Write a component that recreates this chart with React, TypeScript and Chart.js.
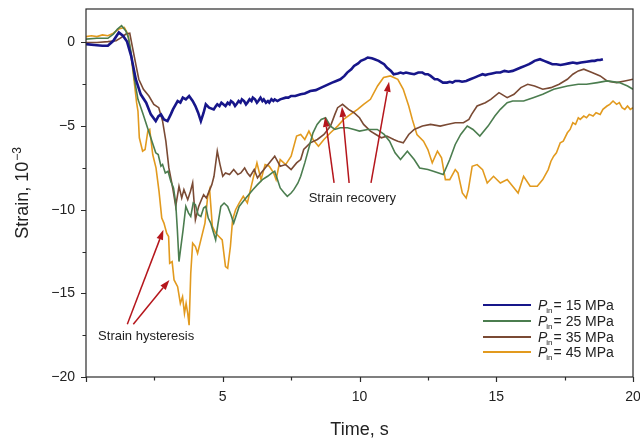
import { useEffect, useRef } from 'react';
import { Chart, registerables } from 'chart.js';

Chart.register(...registerables);

// Strain (×10⁻³) against time (s) for each inlet pressure, as [time, strain] samples
const strain15MPa: [number, number][] = [
  [0, -0.1], [0.3, -0.15], [0.6, -0.2], [0.8, -0.2], [1.0, 0.1], [1.2, 0.6], [1.35, 0.4], [1.5, 0.05],
  [1.65, -0.8], [1.82, -2.2], [2.0, -3.1], [2.2, -3.6], [2.37, -4.3], [2.55, -4.7], [2.65, -4.4], [2.74, -4.3],
  [2.85, -4.6], [2.98, -4.7], [3.1, -4.3], [3.18, -4.0], [3.35, -3.5], [3.45, -3.6], [3.54, -3.3], [3.65, -3.4],
  [3.77, -3.2], [3.9, -3.5], [4.0, -3.8], [4.1, -4.2], [4.2, -4.7], [4.3, -4.2], [4.38, -3.7], [4.5, -3.9],
  [4.67, -4.0], [4.75, -3.8], [4.8, -3.7], [4.88, -3.8], [4.95, -3.6], [5.02, -3.7], [5.1, -3.8], [5.18, -3.6],
  [5.25, -3.7], [5.3, -3.5], [5.38, -3.6], [5.45, -3.8], [5.5, -3.7], [5.58, -3.5], [5.65, -3.6], [5.7, -3.4],
  [5.78, -3.5], [5.85, -3.7], [5.9, -3.6], [5.98, -3.4], [6.05, -3.5], [6.1, -3.3], [6.18, -3.4], [6.25, -3.6],
  [6.3, -3.5], [6.38, -3.3], [6.45, -3.5], [6.5, -3.4], [6.58, -3.6], [6.65, -3.5], [6.7, -3.6], [6.78, -3.4],
  [6.85, -3.5], [6.9, -3.4], [7.0, -3.5], [7.1, -3.4], [7.2, -3.35], [7.3, -3.3], [7.4, -3.3], [7.5, -3.2],
  [7.65, -3.2], [7.85, -3.1], [8.0, -3.05], [8.2, -2.9], [8.4, -2.85], [8.6, -2.7], [8.8, -2.55], [9.0, -2.4],
  [9.15, -2.3], [9.3, -2.2], [9.45, -2.0], [9.55, -1.8], [9.7, -1.6], [9.8, -1.4], [9.95, -1.25], [10.05, -1.1],
  [10.2, -1.0], [10.3, -0.9], [10.45, -0.95], [10.55, -1.0], [10.7, -1.1], [10.8, -1.2], [10.9, -1.3], [11.0, -1.5],
  [11.15, -1.7], [11.25, -1.9], [11.4, -1.85], [11.5, -1.8], [11.6, -1.85], [11.7, -1.8], [11.85, -1.85], [12.0, -1.9],
  [12.15, -1.8], [12.3, -1.8], [12.4, -1.9], [12.5, -1.9], [12.6, -2.0], [12.75, -2.2], [12.85, -2.2], [12.95, -2.3],
  [13.05, -2.4], [13.2, -2.4], [13.3, -2.35], [13.4, -2.4], [13.5, -2.3], [13.65, -2.3], [13.75, -2.35], [13.9, -2.3],
  [14.05, -2.2], [14.2, -2.1], [14.35, -2.0], [14.5, -1.9], [14.6, -1.95], [14.7, -1.9], [14.85, -1.85], [15.0, -1.8],
  [15.15, -1.8], [15.3, -1.7], [15.45, -1.75], [15.6, -1.7], [15.75, -1.6], [15.9, -1.5], [16.05, -1.4], [16.2, -1.3],
  [16.3, -1.2], [16.4, -1.1], [16.5, -1.05], [16.6, -1.0], [16.75, -1.1], [16.9, -1.2], [17.05, -1.3], [17.2, -1.3],
  [17.35, -1.35], [17.5, -1.3], [17.65, -1.25], [17.8, -1.2], [17.95, -1.25], [18.1, -1.2], [18.3, -1.15], [18.5, -1.1],
  [18.6, -1.1], [18.7, -1.05], [18.8, -1.05], [18.9, -1.0],
];

const strain25MPa: [number, number][] = [
  [0, 0.2], [0.4, 0.25], [0.8, 0.25], [1.0, 0.5], [1.15, 0.8], [1.3, 1.0], [1.45, 0.7], [1.55, 0.3],
  [1.64, -0.5], [1.76, -2.1], [1.9, -3.4], [2.07, -4.2], [2.27, -5.2], [2.45, -6.1], [2.55, -6.6], [2.64, -6.7],
  [2.74, -7.4], [2.8, -7.3], [2.9, -7.8], [3.0, -7.7], [3.1, -8.3], [3.2, -8.7], [3.28, -9.6], [3.34, -11.2],
  [3.4, -13.1], [3.47, -12.2], [3.55, -11.2], [3.65, -9.8], [3.75, -10.2], [3.83, -10.4], [3.92, -9.6], [4.0, -9.7],
  [4.1, -10.3], [4.2, -10.4], [4.3, -9.9], [4.38, -9.8], [4.47, -10.5], [4.56, -10.8], [4.65, -11.3], [4.74, -11.8],
  [4.82, -10.9], [4.93, -9.8], [5.05, -9.6], [5.18, -9.8], [5.3, -10.3], [5.4, -10.8], [5.5, -10.3], [5.6, -9.8],
  [5.75, -9.5], [5.9, -9.2], [6.1, -8.8], [6.27, -8.5], [6.45, -8.2], [6.64, -8.0], [6.8, -7.8], [6.9, -7.7],
  [7.0, -8.2], [7.1, -8.7], [7.25, -9.0], [7.36, -9.2], [7.5, -9.0], [7.6, -8.8], [7.75, -8.4], [7.85, -8.0],
  [8.0, -7.2], [8.1, -6.6], [8.2, -6.0], [8.3, -5.4], [8.45, -4.9], [8.6, -4.6], [8.76, -4.5], [8.94, -5.0],
  [9.1, -5.2], [9.3, -5.1], [9.56, -5.1], [9.8, -5.2], [10.0, -5.3], [10.3, -5.2], [10.65, -5.2], [10.9, -5.5],
  [11.1, -5.9], [11.3, -6.6], [11.5, -7.0], [11.75, -6.5], [12.0, -7.0], [12.2, -7.5], [12.5, -7.6], [12.7, -7.7],
  [13.06, -7.9], [13.3, -7.0], [13.5, -6.1], [13.7, -5.5], [13.94, -5.0], [14.15, -5.2], [14.4, -5.6], [14.7, -5.0],
  [14.95, -4.4], [15.15, -4.0], [15.4, -3.6], [15.6, -3.5], [16.0, -3.5], [16.35, -3.3], [16.7, -3.1], [17.1, -2.8],
  [17.6, -2.6], [18.0, -2.5], [18.3, -2.5], [18.7, -2.4], [19.05, -2.3], [19.5, -2.4], [19.8, -2.6], [20.0, -2.8],
];

const strain35MPa: [number, number][] = [
  [0, 0.0], [0.4, 0.0], [0.8, 0.05], [1.1, 0.1], [1.3, 0.3], [1.46, 0.5], [1.6, 0.55], [1.7, -0.3],
  [1.82, -1.3], [1.93, -2.2], [2.1, -2.8], [2.3, -3.2], [2.48, -3.7], [2.66, -3.9], [2.8, -4.7], [2.92, -5.9],
  [3.03, -7.5], [3.17, -8.7], [3.28, -9.8], [3.4, -8.6], [3.5, -9.3], [3.58, -8.8], [3.72, -9.4], [3.82, -8.9],
  [3.9, -8.4], [4.0, -10.6], [4.12, -9.8], [4.22, -9.4], [4.3, -9.1], [4.4, -9.3], [4.5, -8.9], [4.6, -8.5],
  [4.68, -8.0], [4.8, -6.5], [4.9, -7.3], [5.0, -8.0], [5.1, -7.8], [5.25, -7.9], [5.4, -7.6], [5.55, -7.9],
  [5.66, -7.8], [5.8, -7.5], [5.9, -7.8], [6.0, -8.0], [6.15, -7.6], [6.27, -8.1], [6.4, -7.8], [6.55, -7.5],
  [6.7, -7.2], [6.9, -6.8], [7.0, -7.1], [7.1, -7.4], [7.3, -7.3], [7.5, -7.6], [7.7, -7.2], [7.85, -7.0],
  [7.96, -6.4], [8.2, -6.0], [8.46, -5.8], [8.7, -5.5], [8.94, -5.0], [9.1, -4.3], [9.2, -3.9], [9.38, -3.7],
  [9.6, -4.0], [9.8, -4.2], [10.0, -4.5], [10.15, -4.9], [10.4, -5.3], [10.6, -5.5], [10.8, -5.7], [11.0, -5.6],
  [11.25, -5.8], [11.4, -5.9], [11.6, -6.0], [11.8, -5.5], [12.0, -5.2], [12.3, -5.0], [12.6, -4.9], [12.95, -5.0],
  [13.2, -4.9], [13.5, -4.8], [13.8, -4.8], [14.0, -4.6], [14.1, -4.3], [14.3, -3.8], [14.6, -3.6], [14.8, -3.4],
  [15.1, -3.0], [15.4, -3.3], [15.65, -3.1], [15.9, -2.7], [16.15, -2.5], [16.4, -2.6], [16.7, -2.8], [17.0, -2.7],
  [17.3, -2.5], [17.6, -2.2], [17.8, -1.9], [18.0, -1.7], [18.2, -1.6], [18.5, -1.8], [18.8, -2.0], [19.05, -2.3],
  [19.4, -2.4], [19.7, -2.3], [20.0, -2.2],
];

const strain45MPa: [number, number][] = [
  [0, 0.35], [0.2, 0.4], [0.4, 0.35], [0.6, 0.45], [0.8, 0.4], [1.0, 0.55], [1.2, 0.8], [1.4, 0.9],
  [1.53, 0.5], [1.64, -0.7], [1.76, -2.3], [1.85, -3.6], [1.9, -4.1], [1.95, -5.7], [2.07, -6.5], [2.16, -6.4],
  [2.26, -5.3], [2.33, -5.2], [2.44, -6.7], [2.56, -7.5], [2.67, -8.9], [2.77, -10.5], [2.85, -10.8], [2.95, -11.4],
  [3.02, -11.6], [3.06, -13.2], [3.15, -13.1], [3.22, -14.2], [3.35, -14.6], [3.45, -15.6], [3.53, -15.2], [3.6, -16.2],
  [3.66, -15.6], [3.72, -16.2], [3.77, -16.9], [3.83, -13.8], [3.9, -12.0], [4.0, -12.2], [4.08, -12.6], [4.2, -11.8],
  [4.35, -10.8], [4.45, -9.2], [4.52, -8.8], [4.62, -11.0], [4.74, -11.4], [4.86, -11.6], [4.98, -11.8], [5.1, -13.4],
  [5.18, -13.5], [5.28, -12.2], [5.36, -10.6], [5.47, -10.0], [5.6, -9.6], [5.75, -9.2], [5.9, -9.6], [6.1, -8.2],
  [6.25, -7.2], [6.4, -8.2], [6.55, -7.3], [6.7, -7.4], [6.86, -7.8], [6.95, -8.2], [7.1, -7.0], [7.3, -7.3],
  [7.5, -6.8], [7.7, -5.6], [7.85, -5.5], [8.0, -5.8], [8.15, -5.3], [8.3, -5.8], [8.5, -6.2], [8.7, -5.8],
  [8.94, -5.4], [9.2, -5.0], [9.42, -4.6], [9.67, -4.3], [9.93, -4.0], [10.15, -3.7], [10.4, -3.4], [10.66, -2.6],
  [10.88, -2.1], [11.13, -2.0], [11.4, -2.2], [11.6, -2.8], [11.8, -3.8], [11.93, -4.6], [12.1, -5.5], [12.34, -5.9],
  [12.5, -6.4], [12.66, -7.2], [12.85, -6.5], [13.0, -6.9], [13.14, -8.2], [13.3, -8.2], [13.5, -7.6], [13.6, -7.8],
  [13.76, -9.0], [13.9, -9.3], [13.98, -8.8], [14.12, -7.4], [14.3, -7.3], [14.5, -7.6], [14.67, -8.4], [14.9, -8.0],
  [15.15, -8.4], [15.4, -8.2], [15.6, -8.6], [15.8, -9.0], [16.0, -8.0], [16.24, -8.6], [16.5, -8.6], [16.7, -8.2],
  [16.9, -7.6], [17.0, -7.1], [17.1, -6.8], [17.2, -6.6], [17.34, -6.0], [17.45, -5.9], [17.6, -5.4], [17.7, -5.2],
  [17.8, -4.8], [17.9, -4.9], [18.0, -4.5], [18.07, -4.6], [18.2, -4.4], [18.3, -4.5], [18.4, -4.3], [18.54, -4.4],
  [18.65, -4.2], [18.8, -4.3], [18.9, -4.0], [19.05, -3.8], [19.15, -3.7], [19.27, -3.5], [19.4, -3.7], [19.5, -3.6],
  [19.6, -3.9], [19.7, -4.0], [19.8, -3.8], [19.9, -4.0], [20, -3.9],
];

const pressureLabels = ['15', '25', '35', '45'];
const seriesColors = ['#17168a', '#4b7d4f', '#7a4a34', '#e29a1e'];
const seriesWidths = [2.6, 1.6, 1.6, 1.6];
const seriesData = [strain15MPa, strain25MPa, strain35MPa, strain45MPa];

const xMin = 0;
const xMax = 20;
const yMin = -20;
const yMax = 2;
const tickStep = 2.5;
const labelStep = 5;

const FONT = '"Liberation Sans", Arial, Helvetica, sans-serif';
const TEXT = '#222222';
const ARROW = '#b5161c';

// Annotation anchors in data units: [tailX, tailY, headX, headY]
const hysteresisText = { x: 2.2, y: -17.6, text: 'Strain hysteresis' };
const hysteresisArrows = [
  [1.51, -16.85, 2.83, -11.2],
  [1.73, -16.85, 3.05, -14.2],
];
const recoveryText = { x: 9.74, y: -9.3, text: 'Strain recovery' };
const recoveryArrows = [
  [9.07, -8.4, 8.74, -4.45],
  [9.62, -8.4, 9.36, -3.85],
  [10.42, -8.4, 11.08, -2.35],
];

const fmt = (v: number) => (v < 0 ? '\u2212' + Math.abs(v) : String(v));

function drawArrow(ctx: CanvasRenderingContext2D, x1: number, y1: number, x2: number, y2: number) {
  const ang = Math.atan2(y2 - y1, x2 - x1);
  const hl = 10;
  const hw = 3.4;
  const bx = x2 - hl * Math.cos(ang);
  const by = y2 - hl * Math.sin(ang);
  ctx.beginPath();
  ctx.moveTo(x1, y1);
  ctx.lineTo(bx, by);
  ctx.stroke();
  ctx.beginPath();
  ctx.moveTo(x2, y2);
  ctx.lineTo(bx + hw * Math.sin(ang), by - hw * Math.cos(ang));
  ctx.lineTo(bx - hw * Math.sin(ang), by + hw * Math.cos(ang));
  ctx.closePath();
  ctx.fill();
}

const decorPlugin = {
  id: 'strainDecor',
  afterDraw(chart: any) {
    const { ctx, chartArea: a, scales } = chart;
    const xs = scales.x;
    const ys = scales.y;
    ctx.save();

    // frame
    ctx.strokeStyle = '#2a2a2a';
    ctx.lineWidth = 1.2;
    ctx.strokeRect(a.left, a.top, a.right - a.left, a.bottom - a.top);

    // outward tick marks, longer on labelled values
    ctx.lineWidth = 1.2;
    ctx.beginPath();
    for (const t of xs.ticks) {
      const px = Math.round(xs.getPixelForValue(t.value)) + 0.5;
      const len = t.value % labelStep === 0 ? 5 : 3.5;
      ctx.moveTo(px, a.bottom);
      ctx.lineTo(px, a.bottom + len);
    }
    for (const t of ys.ticks) {
      const py = Math.round(ys.getPixelForValue(t.value)) + 0.5;
      const len = t.value % labelStep === 0 ? 5 : 3.5;
      ctx.moveTo(a.left, py);
      ctx.lineTo(a.left - len, py);
    }
    ctx.stroke();

    // axis titles
    ctx.fillStyle = TEXT;
    ctx.font = `18px ${FONT}`;
    ctx.textAlign = 'center';
    ctx.textBaseline = 'alphabetic';
    ctx.fillText('Time, s', (a.left + a.right) / 2, 435);

    ctx.save();
    ctx.translate(28, (a.top + a.bottom) / 2);
    ctx.rotate(-Math.PI / 2);
    ctx.textAlign = 'left';
    ctx.font = `18px ${FONT}`;
    const main = 'Strain, 10';
    const wMain = ctx.measureText(main).width;
    ctx.font = `12px ${FONT}`;
    const sup = '\u22123';
    const wSup = ctx.measureText(sup).width;
    const start = -(wMain + wSup + 1) / 2;
    ctx.font = `18px ${FONT}`;
    ctx.fillText(main, start, 0);
    ctx.font = `12px ${FONT}`;
    ctx.fillText(sup, start + wMain + 1, -7);
    ctx.restore();

    // legend
    const legendLineX0 = a.right - 150;
    const legendLineX1 = a.right - 102;
    const legendTextX = a.right - 95;
    const rowYs = [a.bottom - 72, a.bottom - 56, a.bottom - 40, a.bottom - 25];
    chart.data.datasets.forEach((ds: any, i: number) => {
      const yy = rowYs[i];
      ctx.strokeStyle = ds.borderColor;
      ctx.lineWidth = 2;
      ctx.beginPath();
      ctx.moveTo(legendLineX0, yy);
      ctx.lineTo(legendLineX1, yy);
      ctx.stroke();
      ctx.fillStyle = TEXT;
      ctx.textAlign = 'left';
      ctx.font = `italic 14px ${FONT}`;
      ctx.fillText('P', legendTextX, yy + 5);
      const wP = ctx.measureText('P').width;
      ctx.font = `8px ${FONT}`;
      ctx.fillText('in', legendTextX + wP - 1, yy + 8);
      const wIn = ctx.measureText('in').width;
      ctx.font = `14px ${FONT}`;
      ctx.fillText(`= ${pressureLabels[i]} MPa`, legendTextX + wP + wIn, yy + 5);
    });

    // annotations
    ctx.strokeStyle = ARROW;
    ctx.fillStyle = ARROW;
    ctx.lineWidth = 1.5;
    for (const [x1, y1, x2, y2] of [...hysteresisArrows, ...recoveryArrows]) {
      drawArrow(
        ctx,
        xs.getPixelForValue(x1),
        ys.getPixelForValue(y1),
        xs.getPixelForValue(x2),
        ys.getPixelForValue(y2),
      );
    }
    ctx.fillStyle = TEXT;
    ctx.font = `13px ${FONT}`;
    ctx.textAlign = 'center';
    ctx.textBaseline = 'middle';
    for (const note of [hysteresisText, recoveryText]) {
      ctx.fillText(note.text, xs.getPixelForValue(note.x), ys.getPixelForValue(note.y));
    }

    ctx.restore();
  },
};

export default function App() {
  const canvasRef = useRef<HTMLCanvasElement | null>(null);

  useEffect(() => {
    const canvas = canvasRef.current;
    if (!canvas) return;
    const chart = new Chart(canvas, {
      type: 'line',
      data: {
        datasets: seriesData.map((series, i) => ({
          label: `Pin = ${pressureLabels[i]} MPa`,
          data: series.map(([t, s]) => ({ x: t, y: s })),
          borderColor: seriesColors[i],
          backgroundColor: seriesColors[i],
          borderWidth: seriesWidths[i],
          pointRadius: 0,
          tension: 0,
          fill: false,
        })),
      },
      options: {
        responsive: false,
        animation: false,
        layout: { padding: { left: 0, right: 7, top: 9, bottom: 0 } },
        plugins: {
          legend: { display: false },
          tooltip: { enabled: false },
        },
        scales: {
          x: {
            type: 'linear',
            min: xMin,
            max: xMax,
            grid: { display: false, drawTicks: false },
            border: { display: false },
            ticks: {
              stepSize: tickStep,
              includeBounds: false,
              autoSkip: false,
              maxRotation: 0,
              padding: 12,
              color: TEXT,
              font: { family: FONT, size: 14 },
              callback: (v: any) => (v % labelStep === 0 && v !== 0 ? fmt(v) : ''),
            },
            afterFit: (s: any) => {
              s.height = 61;
              s.paddingLeft = 0;
              s.paddingRight = 0;
            },
          },
          y: {
            type: 'linear',
            min: yMin,
            max: yMax,
            grid: { display: false, drawTicks: false },
            border: { display: false },
            ticks: {
              stepSize: tickStep,
              includeBounds: false,
              autoSkip: false,
              padding: 11,
              color: TEXT,
              font: { family: FONT, size: 14 },
              callback: (v: any) => (v % labelStep === 0 ? fmt(v) : ''),
            },
            afterFit: (s: any) => {
              s.width = 86;
              s.paddingTop = 0;
              s.paddingBottom = 0;
            },
          },
        },
      },
      plugins: [decorPlugin],
    } as any);
    return () => chart.destroy();
  }, []);

  return (
    <div style={{ position: 'fixed', left: 0, top: 0, width: 640, height: 438, background: '#ffffff' }}>
      <canvas ref={canvasRef} width={640} height={438} style={{ display: 'block' }} />
    </div>
  );
}
